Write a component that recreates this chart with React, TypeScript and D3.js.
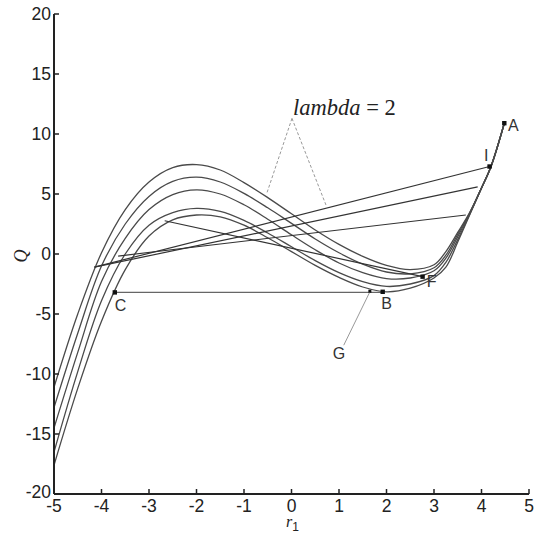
import React from "react";
import * as d3 from "d3";

const W = 537;
const H = 533;

const xTicks = [-5, -4, -3, -2, -1, 0, 1, 2, 3, 4, 5];
const yTicks = [-20, -15, -10, -5, 0, 5, 10, 15, 20];

const curveX = [-5, -4.5, -4, -3.5, -3, -2.5, -2, -1.5, -1, -0.5, 0, 0.5, 1, 1.5, 2, 2.5, 3, 3.25, 3.5, 3.75, 4, 4.2, 4.48];
const curve1 = [-11.1, -5.0, 0.1, 3.7, 6.0, 7.2, 7.45, 7.0, 5.95, 4.7, 3.35, 2.0, 0.8, -0.2, -0.95, -1.3, -0.9, 0.2, 1.8, 3.45, 5.5, 7.3, 10.9];
const curve2 = [-12.8, -6.6, -1.0, 2.5, 4.8, 6.05, 6.4, 6.0, 5.05, 3.85, 2.55, 1.25, 0.1, -0.85, -1.5, -1.65, -1.15, -0.1, 1.65, 3.4, 5.5, 7.3, 10.9];
const curve3 = [-14.5, -8.2, -2.3, 1.3, 3.7, 4.95, 5.35, 5.0, 4.1, 2.9, 1.6, 0.35, -0.75, -1.55, -2.05, -2.0, -1.4, -0.35, 1.45, 3.35, 5.5, 7.3, 10.9];
const curve4 = [-16.5, -9.8, -3.9, 0.0, 2.4, 3.45, 3.8, 3.55, 2.8, 1.75, 0.6, -0.55, -1.55, -2.3, -2.7, -2.5, -1.8, -0.7, 1.2, 3.3, 5.5, 7.3, 10.9];
const curve5 = [-17.6, -11.2, -5.6, -1.3, 1.5, 2.85, 3.25, 3.1, 2.4, 1.35, 0.2, -0.95, -1.95, -2.75, -3.15, -2.85, -2.0, -1.1, 1.0, 3.25, 5.5, 7.3, 10.9];
const curves = [curve1, curve2, curve3, curve4, curve5];

// chords: [x1, y1, x2, y2]
const chordL1 = [-4.15, -1.1, 4.17, 7.29];
const chordL2 = [-4.15, -1.1, 3.92, 5.59];
const chordL3 = [-3.65, -0.17, 3.67, 3.25];
const chordL4 = [-2.67, 2.77, 2.76, -1.89];
const chords = [chordL1, chordL2, chordL3, chordL4];
const chordCB = [-3.72, -3.2, 1.92, -3.2];

// labelled points
const pointNames = ["A", "I", "F", "B", "C", "G"];
const pointX = [4.48, 4.17, 2.76, 1.92, -3.72, 1.65];
const pointY = [10.9, 7.29, -1.89, -3.15, -3.2, -3.1];
const labelX = [4.67, 4.1, 2.95, 2.0, -3.6, 1.0];
const labelY = [10.75, 8.2, -2.3, -4.1, -4.25, -8.25];

// lambda annotation
const lambdaApex = [0.01, 11.3];
const lambdaEnds = [[-0.52, 5.06], [0.74, 3.94]];
const gLeader = [1.1, -7.6, 1.65, -3.15];

export default function App() {
  const x = d3.scaleLinear().domain([-5, 5]).range([54, 529]);
  const y = d3.scaleLinear().domain([-20, 20]).range([494, 14]);

  const line = d3
    .line<[number, number]>()
    .x((d) => x(d[0]))
    .y((d) => y(d[1]))
    .curve(d3.curveCatmullRom.alpha(0.5));

  const axisColor = "#222";
  const sans = "'Liberation Sans', Arial, sans-serif";
  const serif = "'Liberation Serif', 'Times New Roman', serif";

  return (
    <div style={{ position: "absolute", left: 0, top: 0 }}>
      <svg width={W} height={H} style={{ display: "block", background: "#fff" }}>
        {/* curves */}
        {curves.map((c, i) => (
          <path
            key={"c" + i}
            d={line(curveX.map((xv, j) => [xv, c[j]] as [number, number])) || ""}
            fill="none"
            stroke="#4a4a4a"
            strokeWidth={1.3}
          />
        ))}
        {/* chords */}
        {chords.map((l, i) => (
          <line
            key={"l" + i}
            x1={x(l[0])}
            y1={y(l[1])}
            x2={x(l[2])}
            y2={y(l[3])}
            stroke="#333"
            strokeWidth={1.2}
          />
        ))}
        <line
          x1={x(chordCB[0])}
          y1={y(chordCB[1])}
          x2={x(chordCB[2])}
          y2={y(chordCB[3])}
          stroke="#666"
          strokeWidth={1.2}
        />
        {/* G leader */}
        <line
          x1={x(gLeader[0])}
          y1={y(gLeader[1])}
          x2={x(gLeader[2])}
          y2={y(gLeader[3])}
          stroke="#999"
          strokeWidth={1}
        />
        {/* lambda dashed leaders */}
        {lambdaEnds.map((e, i) => (
          <line
            key={"d" + i}
            x1={x(lambdaApex[0])}
            y1={y(lambdaApex[1])}
            x2={x(e[0])}
            y2={y(e[1])}
            stroke="#999"
            strokeWidth={1}
            strokeDasharray="3,2"
          />
        ))}
        <text x={293} y={115} fontFamily={serif} fontSize={22.5} fill="#222">
          <tspan fontStyle="italic">lambda</tspan>
          <tspan> = 2</tspan>
        </text>
        {/* points */}
        {pointNames.map((n, i) => (
          <rect
            key={"p" + n}
            x={x(pointX[i]) - (n === "G" ? 1.5 : 2.2)}
            y={y(pointY[i]) - (n === "G" ? 1.5 : 2.2)}
            width={n === "G" ? 3 : 4.4}
            height={n === "G" ? 3 : 4.4}
            fill="#111"
          />
        ))}
        {pointNames.map((n, i) => (
          <text
            key={"t" + n}
            x={x(labelX[i])}
            y={y(labelY[i])}
            fontFamily={sans}
            fontSize={16}
            fill="#333"
            textAnchor="middle"
            dominantBaseline="central"
          >
            {n}
          </text>
        ))}
        {/* axes */}
        <line x1={x(-5)} y1={y(-20)} x2={x(5)} y2={y(-20)} stroke={axisColor} strokeWidth={2} />
        <line x1={x(-5)} y1={y(-20)} x2={x(-5)} y2={y(20)} stroke={axisColor} strokeWidth={2} />
        {xTicks.map((t) => (
          <g key={"xt" + t}>
            <line x1={x(t)} x2={x(t)} y1={y(-20)} y2={y(-20) - 5} stroke={axisColor} strokeWidth={1.5} />
            <text x={x(t)} y={512} fontFamily={sans} fontSize={17.5} fill="#222" textAnchor="middle">
              {t}
            </text>
          </g>
        ))}
        {yTicks.map((t) => (
          <g key={"yt" + t}>
            <line x1={x(-5)} x2={x(-5) + 5} y1={y(t)} y2={y(t)} stroke={axisColor} strokeWidth={1.5} />
            <text
              x={51}
              y={y(t) - (t === -20 ? 2 : 0)}
              fontFamily={sans}
              fontSize={17.5}
              fill="#222"
              textAnchor="end"
              dominantBaseline="central"
            >
              {t}
            </text>
          </g>
        ))}
        {/* axis titles */}
        <text x={286} y={527} fontFamily={serif} fontSize={16} fontStyle="italic" fill="#222">
          r
          <tspan fontFamily={sans} fontStyle="normal" fontSize={12} dy={4}>
            1
          </tspan>
        </text>
        <text
          transform="translate(27,256) rotate(-90)"
          fontFamily={serif}
          fontSize={18}
          fontStyle="italic"
          fill="#222"
          textAnchor="middle"
        >
          Q
        </text>
      </svg>
    </div>
  );
}
